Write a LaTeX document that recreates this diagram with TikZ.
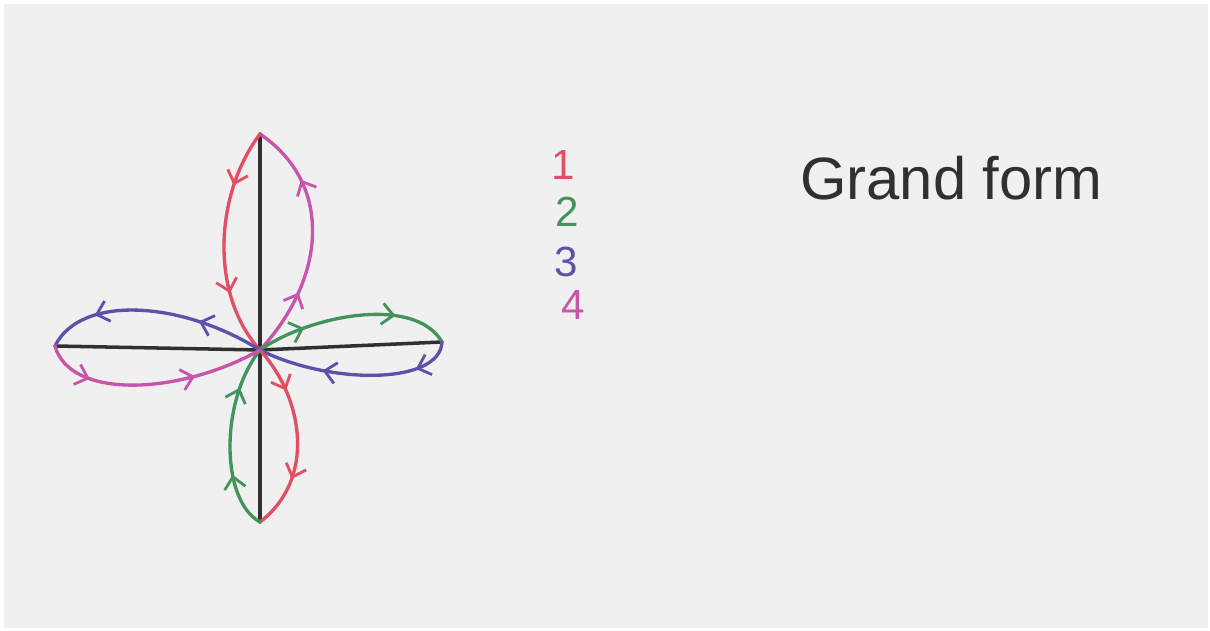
\documentclass[tikz,border=0pt]{standalone}
\usepackage{fontspec}
\setmainfont{Liberation Sans}
\usetikzlibrary{arrows.meta,decorations.markings}
\definecolor{paper}{RGB}{240,240,240}
\definecolor{pred}{RGB}{226,78,100}
\definecolor{pgreen}{RGB}{66,148,92}
\definecolor{pblue}{RGB}{92,82,170}
\definecolor{pmag}{RGB}{200,84,172}
\definecolor{pink}{RGB}{48,48,48}
\tikzset{
  axis/.style={draw=pink, line width=2pt, line cap=round},
  petal/.style={line width=1.9pt, line cap=round,
    postaction={decorate, decoration={markings,
      mark=at position #1 with {\arrow{Straight Barb[length=6.5pt,width=12pt,line width=1.6pt]}},
      mark=at position #1+0.47 with {\arrow{Straight Barb[length=6.5pt,width=12pt,line width=1.6pt]}}}}},
  petal/.default=0.27,
  legend/.style={font=\fontsize{24}{24}\selectfont, inner sep=0pt, anchor=center},
  title/.style={font=\fontsize{34}{34}\selectfont, inner sep=0pt, anchor=base west, text=pink}
}
\begin{document}
\begin{tikzpicture}[x=0.02cm, y=-0.02cm]
\fill[white] (0,0) rectangle (1210,631);
\fill[paper] (4,4) rectangle (1208,628);
\useasboundingbox (0,0) rectangle (1210,631);
\coordinate (O) at (260,350);
\coordinate (T) at (260,134);
\coordinate (B) at (260,522);
\coordinate (L) at (55,346);
\coordinate (R) at (442,342);
% axes
\draw[axis] (T) -- (B);
\draw[axis] (L) -- (O) -- (R);
% top petal
\draw[petal=0.25, pred] (T) .. controls (214,195) and (210,295) .. (O);
\draw[petal=0.28, pmag] (O) .. controls (325,280) and (335,185) .. (T);
% right petal
\draw[petal=0.25, pgreen] (O) .. controls (310,315) and (415,295) .. (R);
\draw[petal=0.2, pblue] (R) .. controls (440,385) and (330,385) .. (O);
% bottom petal
\draw[petal=0.25, pred] (O) .. controls (305,400) and (315,480) .. (B);
\draw[petal=0.3, pgreen] (B) .. controls (220,500) and (220,400) .. (O);
% left petal
\draw[petal=0.3, pblue] (O) .. controls (180,300) and (80,295) .. (L);
\draw[petal=0.22, pmag] (L) .. controls (70,400) and (180,395) .. (O);
% legend
\node[legend, text=pred] (n1) at (563,165) {1};
\node[legend, text=pgreen] (n2) at (567,212) {2};
\node[legend, text=pblue] (n3) at (566,262) {3};
\node[legend, text=pmag] (n4) at (573,305) {4};
% title
\node[title] (title) at (800,200) {Grand form};
\end{tikzpicture}
\end{document}
